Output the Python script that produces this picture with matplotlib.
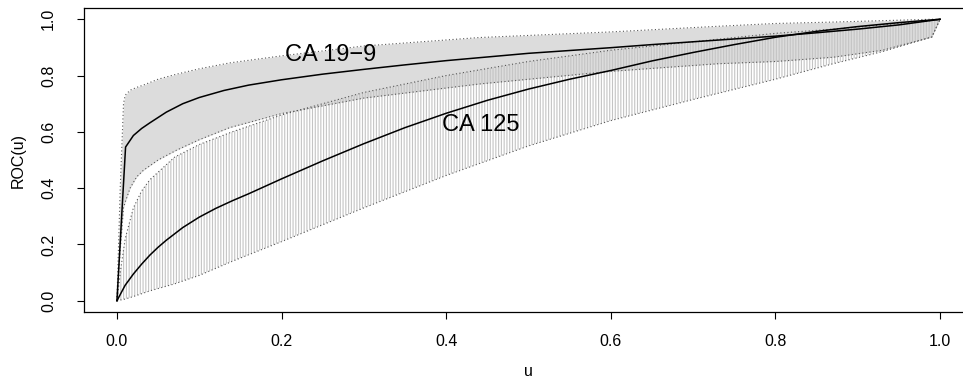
import numpy as np
import matplotlib.pyplot as plt

plt.rcParams['font.family'] = ['Liberation Sans', 'DejaVu Sans']
plt.rcParams['hatch.linewidth'] = 0.8

# ROC curves
u_199 = [0, 0.0105, 0.02, 0.03, 0.04, 0.06, 0.08, 0.10, 0.13, 0.16, 0.20, 0.25, 0.30, 0.35,
         0.40, 0.45, 0.50, 0.55, 0.60, 0.65, 0.70, 0.75, 0.80, 0.85, 0.90, 0.95, 1.0]
roc_199 = [0, 0.546, 0.587, 0.612, 0.632, 0.67, 0.70, 0.722, 0.747, 0.766, 0.785, 0.805, 0.822, 0.838,
           0.853, 0.866, 0.879, 0.889, 0.899, 0.91, 0.92, 0.93, 0.94, 0.952, 0.965, 0.98, 1.0]

u_125 = [0, 0.01, 0.02, 0.03, 0.04, 0.05, 0.06, 0.08, 0.10, 0.12, 0.14, 0.16, 0.20, 0.25, 0.30,
         0.35, 0.40, 0.45, 0.50, 0.55, 0.60, 0.65, 0.70, 0.75, 0.80, 0.85, 0.90, 0.95, 1.0]
roc_125 = [0, 0.055, 0.095, 0.13, 0.162, 0.19, 0.215, 0.26, 0.297, 0.328, 0.355, 0.38, 0.433, 0.497, 0.558,
           0.615, 0.666, 0.712, 0.752, 0.787, 0.818, 0.852, 0.882, 0.91, 0.936, 0.957, 0.974, 0.988, 1.0]

# confidence bands, CA 19-9
u_b199 = [0, 0.004, 0.008, 0.01, 0.016, 0.024, 0.032, 0.05, 0.0725, 0.10, 0.137, 0.20, 0.30, 0.44,
          0.60, 0.73, 0.80, 0.87, 0.93, 0.99, 1.0]
lo_199 = [0, 0.18, 0.33, 0.35, 0.40, 0.44, 0.463, 0.50, 0.535, 0.572, 0.615, 0.665, 0.72, 0.77,
          0.815, 0.842, 0.85, 0.865, 0.89, 0.937, 1.0]
hi_199 = [0, 0.40, 0.70, 0.73, 0.748, 0.758, 0.766, 0.787, 0.805, 0.824, 0.845, 0.87, 0.905, 0.935,
          0.955, 0.975, 0.985, 0.99, 0.995, 1.0, 1.0]

# confidence bands, CA 125
u_b125 = [0, 0.005, 0.01, 0.02, 0.03, 0.04, 0.07, 0.10, 0.14, 0.20, 0.30, 0.40, 0.50, 0.60, 0.70,
          0.80, 0.87, 0.93, 0.99, 1.0]
lo_125 = [0, 0.003, 0.006, 0.015, 0.025, 0.035, 0.06, 0.09, 0.14, 0.21, 0.33, 0.445, 0.55, 0.64, 0.715,
          0.787, 0.842, 0.885, 0.937, 1.0]
hi_125 = [0, 0.12, 0.22, 0.33, 0.39, 0.43, 0.51, 0.555, 0.60, 0.66, 0.74, 0.80, 0.85, 0.89, 0.92,
          0.95, 0.965, 0.98, 0.995, 1.0]

labels = ['CA 19\u22129', 'CA 125']
label_pos = [(0.26, 0.872), (0.442, 0.623)]

fig = plt.figure(figsize=(9.63, 3.88), dpi=100)
ax = fig.add_axes([84/963, 76/388, 889/963, 304/388])

ax.fill_between(u_b199, lo_199, hi_199, color='#dcdcdc', lw=0)
ax.fill_between(u_b125, lo_125, hi_125, facecolor='none', edgecolor='#c4c4c4',
                hatch='||||||', lw=0)

for uu, yy in [(u_b199, lo_199), (u_b199, hi_199), (u_b125, lo_125), (u_b125, hi_125)]:
    ax.plot(uu, yy, color='#555555', lw=0.8, dashes=(1, 2.2))

ax.plot(u_199, roc_199, color='black', lw=1.1)
ax.plot(u_125, roc_125, color='black', lw=1.1)

for lab, (x, y) in zip(labels, label_pos):
    ax.text(x, y, lab, fontsize=17, ha='center', va='center')

ax.set_xlim(-0.04, 1.04)
ax.set_ylim(-0.04, 1.04)
ticks = [0.0, 0.2, 0.4, 0.6, 0.8, 1.0]
ax.set_xticks(ticks)
ax.set_yticks(ticks)
ax.set_xticklabels(['%.1f' % t for t in ticks])
ax.set_yticklabels(['%.1f' % t for t in ticks], rotation=90, va='center')
ax.tick_params(length=5, width=0.8, labelsize=11.5)
ax.tick_params(axis='x', pad=11)
ax.tick_params(axis='y', pad=15)
for s in ax.spines.values():
    s.set_linewidth(0.9)

ax.set_xlabel('u', fontsize=11.5, labelpad=11)
ax.set_ylabel('ROC(u)', fontsize=11.5, labelpad=11)

fig.savefig('out.png', dpi=100)
